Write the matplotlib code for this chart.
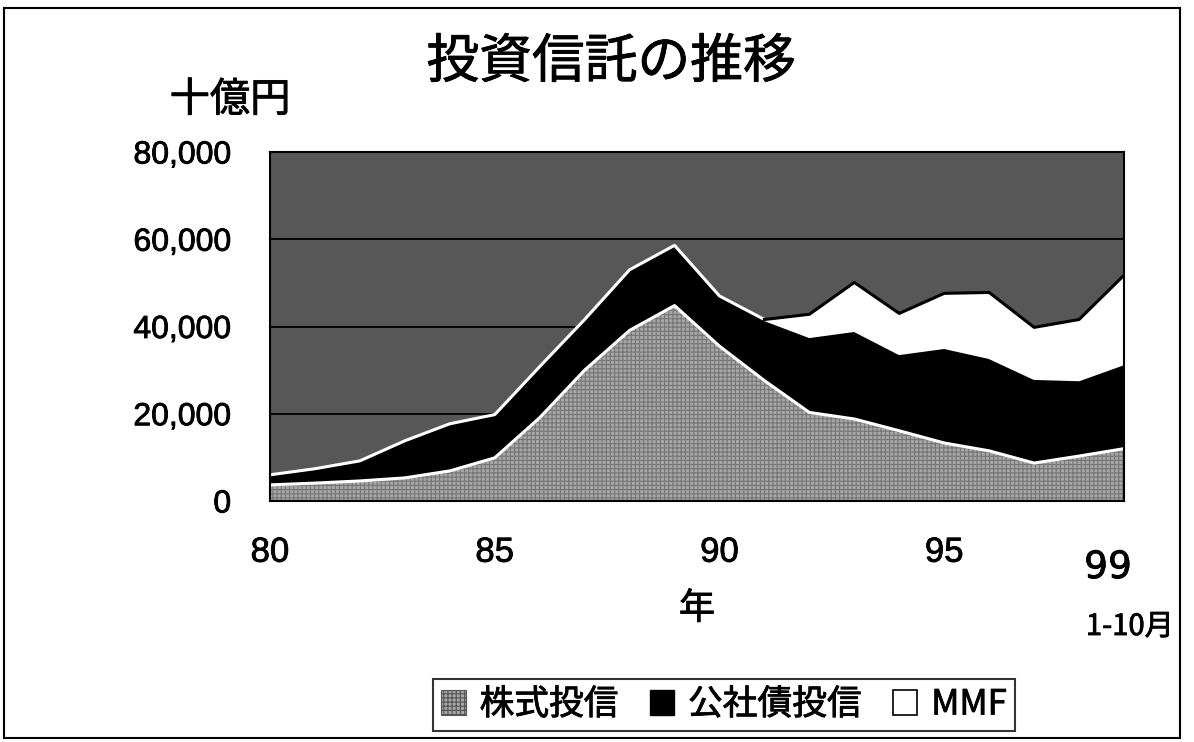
import matplotlib
matplotlib.use("Agg")
import matplotlib.pyplot as plt
import matplotlib.patheffects as pe
from matplotlib.patches import Patch, Rectangle
from matplotlib.ticker import FuncFormatter
import numpy as np

plt.rcParams['font.family'] = ['Noto Sans CJK JP', 'DejaVu Sans']
plt.rcParams['hatch.linewidth'] = 0.8

# Net assets of investment trusts, billion yen (year end; 99 = Jan-Oct)
years = [80, 81, 82, 83, 84, 85, 86, 87, 88, 89,
         90, 91, 92, 93, 94, 95, 96, 97, 98, 99]
stock_funds = [3700, 4100, 4600, 5300, 6900, 9900, 19100, 30000, 39100, 44800,
               35500, 27600, 20300, 18800, 16100, 13300, 11500, 8700, 10300, 12000]
bond_funds = [2300, 3300, 4600, 8500, 10800, 9900, 11700, 11600, 13900, 13800,
              11500, 14000, 17400, 20300, 17700, 21900, 21400, 19400, 17500, 19500]
mmf = [0, 0, 0, 0, 0, 0, 0, 0, 0, 0,
       0, 0, 5100, 11000, 9200, 12400, 14900, 11700, 13800, 20250]

series_names = ['株式投信', '公社債投信', 'MMF']
x_ticks = [80, 85, 90, 95]
y_ticks = [0, 20000, 40000, 60000, 80000]

# slightly heavier strokes for all text
heavy = [pe.withStroke(linewidth=0.6, foreground='black')]

W, H = 1194, 742
fig = plt.figure(figsize=(W / 100, H / 100), dpi=100)
fig.patch.set_facecolor('white')

ax = fig.add_axes([270 / W, 1 - 501 / H, (1124 - 270) / W, (501 - 152) / H])
ax.set_facecolor('#575757')

x = np.array(years, dtype=float)
s1 = np.array(stock_funds, dtype=float)
s2 = s1 + np.array(bond_funds, dtype=float)
s3 = s2 + np.array(mmf, dtype=float)

# horizontal gridlines behind the areas
for v in y_ticks[1:-1]:
    ax.axhline(v, color='black', lw=1.3, zorder=1)

stock_face = '#a6a6a6'
ax.fill_between(x, 0, s1, facecolor=stock_face, edgecolor='#767676',
                hatch='++++', lw=0, zorder=2)
ax.fill_between(x, s1, s2, facecolor='black', lw=0, zorder=2)
ax.fill_between(x, s2, s3, facecolor='white', lw=0, zorder=2)

# white seams between the bands, black outline on the MMF top
ax.plot(x, s1, color='white', lw=2.2, zorder=3)
ax.plot(x, s2, color='white', lw=2.2, zorder=3)
start = next(i for i in range(1, len(mmf)) if mmf[i] > 0) - 1
ax.plot(x[start:], s3[start:], color='black', lw=2.2, zorder=4)

ax.set_xlim(80, 99)
ax.set_ylim(0, 80000)
ax.set_xticks(x_ticks)
ax.set_xticklabels([str(t) for t in x_ticks])
ax.set_yticks(y_ticks)
ax.yaxis.set_major_formatter(FuncFormatter(lambda v, p: f'{int(v):,}'))
ax.tick_params(axis='both', length=0)
ax.tick_params(axis='y', pad=28)
ax.tick_params(axis='x', pad=25)
for lab in ax.get_yticklabels():
    lab.set_fontfamily(['Liberation Sans', 'DejaVu Sans'])
    lab.set_fontsize(23)
    lab.set_path_effects(heavy)
for lab in ax.get_xticklabels():
    lab.set_fontfamily(['Liberation Sans', 'DejaVu Sans'])
    lab.set_fontsize(25)
    lab.set_path_effects(heavy)
for sp in ax.spines.values():
    sp.set_color('black')
    sp.set_linewidth(1.5)
    sp.set_zorder(5)

xl = ax.set_xlabel('年', fontsize=26, labelpad=16)
xl.set_path_effects(heavy)

# titles and unit
fig.text(611 / W, 1 - 62 / H, '投資信託の推移', fontsize=38,
         ha='center', va='center', path_effects=heavy)
fig.text(230 / W, 1 - 100 / H, '十億円', fontsize=29, ha='center', va='center',
         path_effects=heavy)

# annotation for the last point
fig.text(1108 / W, 1 - 568 / H, '99', fontsize=27, ha='center', va='center',
         family=['DejaVu Sans'], path_effects=heavy)
fig.text(1130 / W, 1 - 627 / H, '1-10月', fontsize=21, ha='center', va='center',
         path_effects=heavy)

handles = [
    Patch(facecolor=stock_face, edgecolor='#555555', hatch='++++', lw=0.8),
    Patch(facecolor='black', edgecolor='black'),
    Patch(facecolor='white', edgecolor='black', lw=1.2),
]
leg = fig.legend(handles, series_names, loc='center',
                 bbox_to_anchor=(724 / W, 1 - 705 / H), ncol=3,
                 fontsize=25, frameon=True, fancybox=False, edgecolor='black',
                 handlelength=0.7, handleheight=0.7, handletextpad=0.4,
                 columnspacing=0.9, borderpad=0.25, borderaxespad=0)
leg.get_frame().set_linewidth(1.5)
for t in leg.get_texts():
    t.set_path_effects(heavy)

# outer border of the chart
fig.add_artist(Rectangle((4 / W, 1 - 738 / H), (1180 - 4) / W, (738 - 8) / H,
                         transform=fig.transFigure, fill=False,
                         edgecolor='black', lw=1.5))

fig.savefig('out.png', dpi=100)
